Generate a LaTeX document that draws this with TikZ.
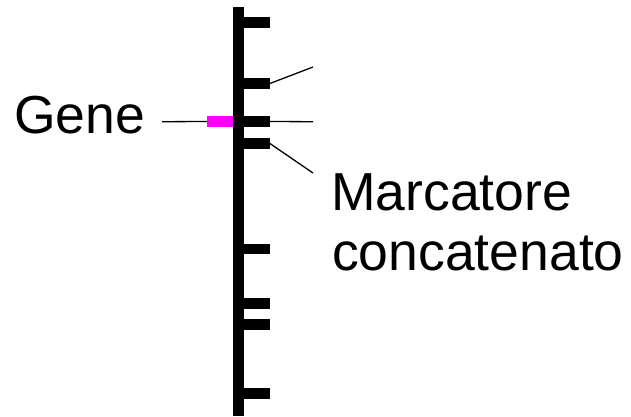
\documentclass[tikz,border=0pt]{standalone}
\usepackage{fontspec}
\setmainfont{Liberation Sans}
\definecolor{genemag}{RGB}{255,0,255}
\begin{document}
\begin{tikzpicture}[x=1pt,y=-1pt,
  tickbox/.style={fill=black,draw=none,inner sep=0,minimum width=25.5pt,minimum height=10.5pt,anchor=west},
  genebox/.style={fill=genemag,draw=none,inner sep=0,minimum width=26pt,minimum height=10.5pt},
  thin line/.style={line width=1.3pt},
  label/.style={inner sep=0,anchor=base west,font=\fontsize{53.5}{60}\selectfont}]
\useasboundingbox (0,0) rectangle (631,416);
\node[fill=black,inner sep=0,minimum width=11pt,minimum height=409pt,anchor=north] (bar) at (238.5,7) {};
\node[tickbox] (t1) at (244,22.5) {};
\node[tickbox] (t2) at (244,83.5) {};
\node[tickbox] (t3) at (244,121.5) {};
\node[tickbox] (t4) at (244,143.5) {};
\node[tickbox] (t5) at (244,249) {};
\node[tickbox] (t6) at (244,303.5) {};
\node[tickbox] (t7) at (244,324.5) {};
\node[tickbox] (t8) at (244,393.5) {};
\node[genebox] (gene) at (220,121.5) {};
\coordinate (gl) at (162,121.7);
\coordinate (e2) at (313,67);
\coordinate (e3) at (313,121.7);
\coordinate (e4) at (313,173);
\draw[thin line] (gl) -- (gene.west);
\draw[thin line] (t2.east) -- (e2);
\draw[thin line] (t3.east) -- (e3);
\draw[thin line] (t4.east) -- (e4);
\node[label] (gt) at (14,133) {Gene};
\node[label] (m1) at (331,210) {Marcatore};
\node[label] (m2) at (332,270) {concatenato};
\end{tikzpicture}
\end{document}
